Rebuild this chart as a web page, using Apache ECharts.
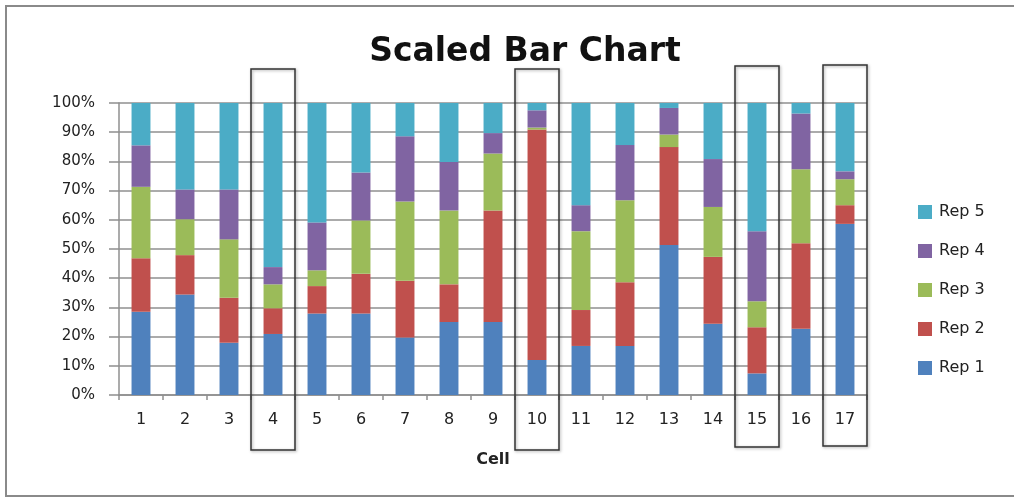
<!DOCTYPE html>
<html>
<head>
<meta charset="utf-8">
<script src="https://cdn.jsdelivr.net/npm/echarts@6/dist/echarts.min.js"></script>
<style>
  html, body { margin: 0; padding: 0; background: #fff; }
  #chart { width: 1014px; height: 501px; }
</style>
</head>
<body>
<div id="chart"></div>
<script>
// categories and series values (percent of each cell)
const cells = ['1','2','3','4','5','6','7','8','9','10','11','12','13','14','15','16','17'];
const rep1 = [28.5, 34.4, 17.9, 20.9, 27.9, 27.9, 19.7, 25.0, 25.0, 12.0, 16.8, 16.8, 51.4, 24.4, 7.4, 22.7, 58.6];
const rep2 = [18.3, 13.5, 15.4, 8.8, 9.4, 13.6, 19.4, 12.9, 38.2, 78.9, 12.3, 21.8, 33.5, 22.9, 15.8, 29.3, 6.4];
const rep3 = [24.5, 12.3, 20.0, 8.2, 5.4, 18.3, 27.2, 25.3, 19.5, 0.7, 27.0, 28.1, 4.3, 17.1, 8.9, 25.3, 8.9];
const rep4 = [14.2, 10.2, 17.1, 5.9, 16.4, 16.4, 22.3, 16.6, 7.0, 5.9, 8.9, 18.9, 9.1, 16.4, 24.0, 19.1, 2.7];
const rep5 = [14.5, 29.6, 29.6, 56.2, 40.9, 23.8, 11.4, 20.2, 10.3, 2.5, 35.0, 14.4, 1.7, 19.2, 43.9, 3.6, 23.4];
const yTicks = [0, 10, 20, 30, 40, 50, 60, 70, 80, 90, 100];
const highlighted = ['4', '10', '15', '17'];

const COLORS = ['#4F81BD', '#C0504D', '#9BBB59', '#8064A2', '#4BACC6'];
const GRID_GRAY = '#8f8f8f';

const chart = echarts.init(document.getElementById('chart'));

const seriesData = [rep1, rep2, rep3, rep4, rep5];
const series = seriesData.map((vals, i) => ({
  name: 'Rep ' + (i + 1),
  type: 'bar',
  stack: 'total',
  data: vals,
  barCategoryGap: '57%',
  itemStyle: { color: COLORS[i] },
}));

chart.setOption({
  animation: false,
  title: {
    text: 'Scaled Bar Chart',
    left: 520,
    top: 31,
    textAlign: 'center',
    textStyle: {
      fontFamily: 'DejaVu Sans',
      fontWeight: 'bold',
      fontSize: 33,
      color: '#111',
    },
  },
  grid: { left: 119, right: 147, top: 103, bottom: 106 },
  legend: {
    orient: 'vertical',
    left: 913,
    top: 199,
    itemWidth: 14,
    itemHeight: 14,
    itemGap: 23,
    icon: 'rect',
    data: ['Rep 5', 'Rep 4', 'Rep 3', 'Rep 2', 'Rep 1'],
    textStyle: { fontFamily: 'DejaVu Sans', fontSize: 16, color: '#222', padding: [0, 0, 0, 2] },
  },
  xAxis: {
    type: 'category',
    data: cells,
    name: 'Cell',
    nameLocation: 'middle',
    nameGap: 57,
    nameTextStyle: { fontFamily: 'DejaVu Sans', fontWeight: 'bold', fontSize: 16, color: '#222' },
    axisLine: { lineStyle: { color: GRID_GRAY, width: 1.5 } },
    axisTick: { show: true, length: 5, lineStyle: { color: GRID_GRAY, width: 1.5 } },
    axisLabel: { fontFamily: 'DejaVu Sans', fontSize: 16, color: '#222', margin: 17 },
  },
  yAxis: {
    type: 'value',
    min: yTicks[0],
    max: yTicks[yTicks.length - 1],
    interval: 10,
    axisLine: { show: true, lineStyle: { color: GRID_GRAY, width: 1.5 } },
    axisTick: { show: true, inside: false, length: 10, lineStyle: { color: GRID_GRAY, width: 1.5 } },
    splitLine: { lineStyle: { color: GRID_GRAY, width: 1.5 } },
    axisLabel: { fontFamily: 'DejaVu Sans', fontSize: 15, color: '#222', margin: 24, formatter: '{value}%' },
  },
  series: series,
});

// outer chart border plus highlight boxes around selected cells
const elements = [{
  type: 'rect',
  shape: { x: 6, y: 6, width: 1020, height: 490 },
  style: { fill: 'none', stroke: '#8a8a8a', lineWidth: 2 },
  silent: true,
}];
const band = chart.convertToPixel({ xAxisIndex: 0 }, cells[1]) - chart.convertToPixel({ xAxisIndex: 0 }, cells[0]);
highlighted.forEach((c, i) => {
  const center = chart.convertToPixel({ xAxisIndex: 0 }, c);
  // the later boxes sit a few pixels higher in the original
  const lift = i < 2 ? 0 : 3 + (i - 2);
  const top = chart.convertToPixel({ yAxisIndex: 0 }, 100) - 34 - lift;
  const bottom = chart.convertToPixel({ yAxisIndex: 0 }, 0) + 55 - lift;
  elements.push({
    type: 'rect',
    z: 100,
    shape: { x: center - band / 2, y: top, width: band, height: bottom - top },
    style: { fill: 'none', stroke: '#333', lineWidth: 1.5, shadowBlur: 3, shadowColor: 'rgba(0,0,0,0.35)', shadowOffsetX: 1, shadowOffsetY: 1 },
    silent: true,
  });
});
chart.setOption({ graphic: elements });

window.addEventListener('resize', () => chart.resize());
</script>
</body>
</html>
